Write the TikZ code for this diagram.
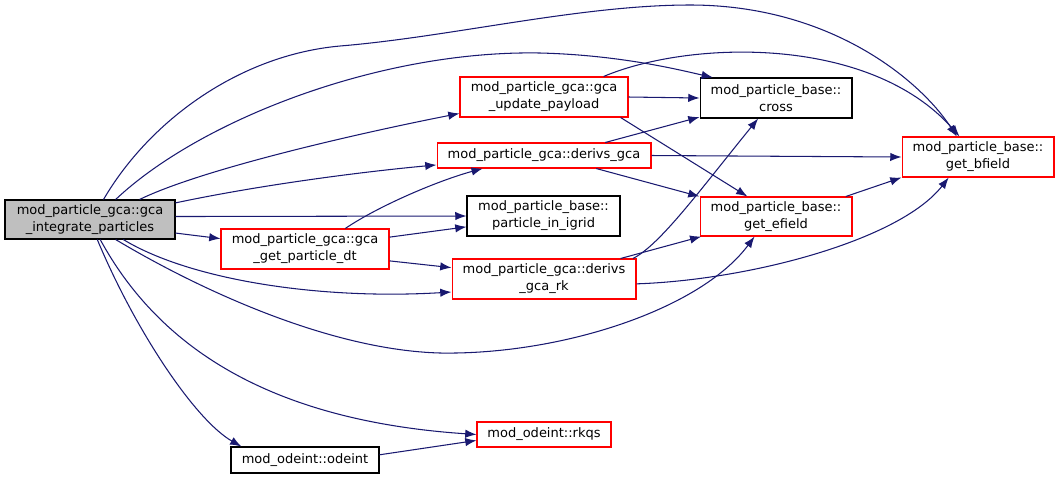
\documentclass[tikz,border=0pt]{standalone}
\usepackage{fontspec}
\usepackage{tikz}
\usetikzlibrary{arrows.meta, positioning}
\newfontfamily\doxfont{DejaVu Sans}
\definecolor{edgeblue}{HTML}{191970}
\definecolor{boxred}{HTML}{FF0000}
\definecolor{boxgray}{HTML}{BFBFBF}
\tikzset{
  fn/.style={draw, rectangle, line width=0.6pt, inner sep=0pt, align=center,
    font=\doxfont\fontsize{7.4}{9.6}\selectfont},
  fnred/.style={fn, draw=boxred},
  call/.style={draw=edgeblue, line width=0.6pt, -{Latex[length=6.4pt,width=4.8pt]}}
}

\begin{document}
\begin{tikzpicture}[x=0.02cm, y=-0.02cm]
        \useasboundingbox (0,0) rectangle (1060,478);
        \node[fn, fill=boxgray, minimum width=3.4cm, minimum height=0.78cm] (integ) at (90,219.5) {mod\_particle\_gca::gca\\\_integrate\_particles};
        \node[fnred, minimum width=3.36cm, minimum height=0.8cm] (upd) at (544,97) {mod\_particle\_gca::gca\\\_update\_payload};
        \node[fn, minimum width=3.04cm, minimum height=0.8cm] (cross) at (776,98) {mod\_particle\_base::\\cross};
        \node[fnred, minimum width=3.04cm, minimum height=0.8cm] (bfield) at (978,157) {mod\_particle\_base::\\get\_bfield};
        \node[fnred, minimum width=4.28cm, minimum height=0.5cm] (dgca) at (544,155.5) {mod\_particle\_gca::derivs\_gca};
        \node[fnred, minimum width=3.04cm, minimum height=0.78cm] (efield) at (776,216.5) {mod\_particle\_base::\\get\_efield};
        \node[fn, minimum width=3.06cm, minimum height=0.8cm] (igrid) at (543.5,216) {mod\_particle\_base::\\particle\_in\_igrid};
        \node[fnred, minimum width=3.36cm, minimum height=0.8cm] (getdt) at (305,249) {mod\_particle\_gca::gca\\\_get\_particle\_dt};
        \node[fnred, minimum width=3.68cm, minimum height=0.8cm] (drk) at (544,279) {mod\_particle\_gca::derivs\\\_gca\_rk};
        \node[fnred, minimum width=2.68cm, minimum height=0.5cm] (rkqs) at (544,434.5) {mod\_odeint::rkqs};
        \node[fn, minimum width=2.96cm, minimum height=0.52cm] (odeint) at (305,460) {mod\_odeint::odeint};

        \draw[call] (integ.56) .. controls (150,120) and (240,55) .. (340,46)
            .. controls (450,37) and (580,5) .. (690,5)
            .. controls (830,5) and (920,80) .. (bfield.136);
        \draw[call] (integ.38) .. controls (200,120) and (380,50) .. (540,53)
            .. controls (620,55) and (680,70) .. (cross.162);
        \draw[call] (integ.22) .. controls (200,170) and (350,135) .. (upd.191);
        \draw[call] (integ.11) .. controls (260,185) and (360,172) .. (dgca.185);
        \draw[call] (integ.2) -- (igrid.west);
        \draw[call] (integ.-9) -- (getdt.173);
        \draw[call] (integ.-31) .. controls (190,280) and (320,300) .. (drk.188);
        \draw[call] (integ.-38) .. controls (200,290) and (330,350) .. (440,353)
            .. controls (560,355) and (700,310) .. (efield.223);
        \draw[call] (integ.-63) .. controls (155,340) and (260,420) .. (rkqs.west);
        \draw[call] (integ.-70) .. controls (135,330) and (195,420) .. (odeint.168);
        \draw[call] (upd.east) -- (cross.west);
        \draw[call] (upd.19) .. controls (690,40) and (870,35) .. (bfield.132);
        \draw[call] (upd.-15) -- (efield.145);
        \draw[call] (dgca.12) -- (cross.194);
        \draw[call] (dgca.east) -- (bfield.west);
        \draw[call] (dgca.-14) -- (efield.north west);
        \draw[call] (getdt.27) .. controls (380,205) and (440,180) .. (dgca.192);
        \draw[call] (getdt.8) -- (igrid.188);
        \draw[call] (getdt.-8) -- (drk.173);
        \draw[call] (drk.15) -- (efield.195);
        \draw[call] (drk.13) .. controls (660,245) and (700,190) .. (cross.229);
        \draw[call] (drk.-3) .. controls (750,280) and (900,240) .. (bfield.215);
        \draw[call] (efield.16) -- (bfield.south west);
        \draw[call] (odeint.4) -- (rkqs.185);
\end{tikzpicture}
\end{document}
